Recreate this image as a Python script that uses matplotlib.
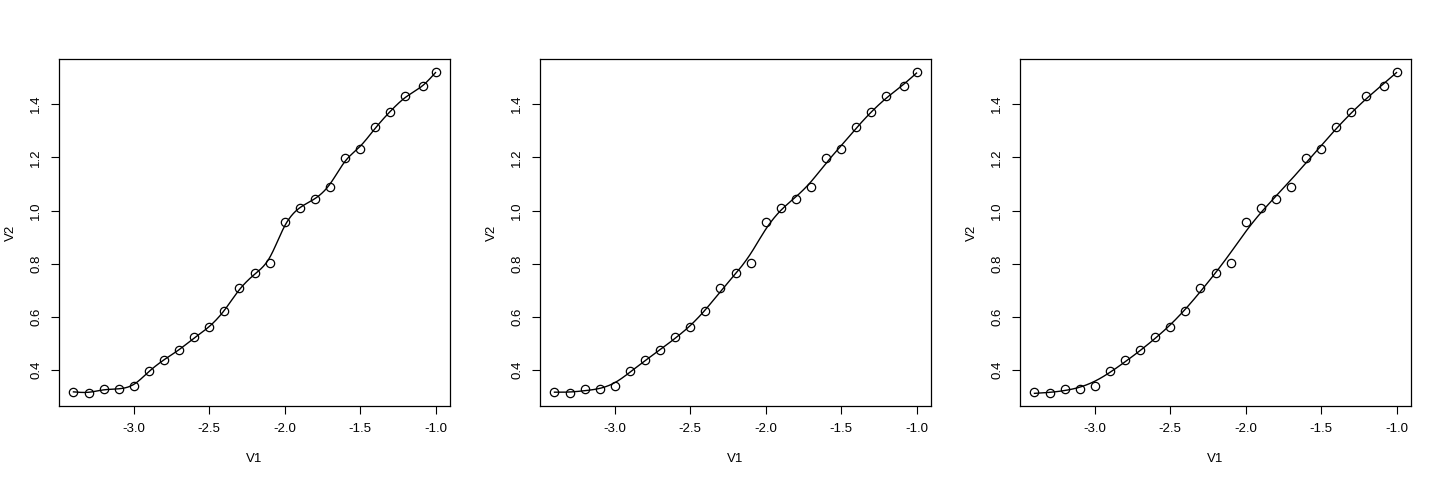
import matplotlib
matplotlib.use("Agg")
import matplotlib.pyplot as plt
import numpy as np

plt.rcParams["font.family"] = ["Liberation Sans", "DejaVu Sans"]

# data
v1 = np.array([-3.4, -3.3, -3.2, -3.1, -3.0, -2.9, -2.8, -2.7, -2.6, -2.5,
               -2.4, -2.3, -2.2, -2.1, -2.0, -1.9, -1.8, -1.7, -1.6, -1.5,
               -1.4, -1.3, -1.2, -1.08, -1.0])
v2 = np.array([0.320, 0.314, 0.330, 0.331, 0.341, 0.399, 0.440, 0.475, 0.524, 0.563,
               0.621, 0.708, 0.766, 0.803, 0.958, 1.010, 1.043, 1.090, 1.198, 1.232,
               1.312, 1.371, 1.429, 1.466, 1.521])
# smoothing penalty for each panel
lambdas = [6e-5, 4e-4, 2e-3]


def smooth_spline(x, y, lam, xs):
    """Reinsch cubic smoothing spline, evaluated at xs."""
    n = len(x)
    h = np.diff(x)
    Q = np.zeros((n, n - 2))
    R = np.zeros((n - 2, n - 2))
    for j in range(1, n - 1):
        Q[j - 1, j - 1] = 1 / h[j - 1]
        Q[j, j - 1] = -1 / h[j - 1] - 1 / h[j]
        Q[j + 1, j - 1] = 1 / h[j]
        R[j - 1, j - 1] = (h[j - 1] + h[j]) / 3
        if j < n - 2:
            R[j - 1, j] = h[j] / 6
            R[j, j - 1] = h[j] / 6
    K = Q @ np.linalg.solve(R, Q.T)
    g = np.linalg.solve(np.eye(n) + lam * K, y)
    gam = np.zeros(n)
    gam[1:-1] = np.linalg.solve(R, Q.T @ g)

    idx = np.clip(np.searchsorted(x, xs) - 1, 0, n - 2)
    x0, x1 = x[idx], x[idx + 1]
    hi = x1 - x0
    a, b = xs - x0, x1 - xs
    return ((a * g[idx + 1] + b * g[idx]) / hi
            - a * b / 6 * ((1 + a / hi) * gam[idx + 1] + (1 + b / hi) * gam[idx]))


fig = plt.figure(figsize=(14.4, 4.8), dpi=100)
xs = np.linspace(v1.min(), v1.max(), 600)
lefts = [59 / 1440, 540 / 1440, 1020 / 1440]

for left, lam in zip(lefts, lambdas):
    ax = fig.add_axes([left, 74 / 480, 391 / 1440, 347 / 480])
    ax.plot(v1, v2, "o", mfc="none", mec="black", ms=6, mew=0.9)
    ax.plot(xs, smooth_spline(v1, v2, lam, xs), "k-", lw=1.0)

    pad_x = (v1.max() - v1.min()) * 0.04
    pad_y = (v2.max() - v2.min()) * 0.04
    ax.set_xlim(v1.min() - pad_x, v1.max() + pad_x)
    ax.set_ylim(v2.min() - pad_y, v2.max() + pad_y)
    ax.set_xticks([-3.0, -2.5, -2.0, -1.5, -1.0])
    ax.set_yticks([0.4, 0.6, 0.8, 1.0, 1.2, 1.4])
    ax.set_xticklabels(["-3.0", "-2.5", "-2.0", "-1.5", "-1.0"])
    ax.set_yticklabels(["0.4", "0.6", "0.8", "1.0", "1.2", "1.4"],
                       rotation=90, va="center")
    ax.tick_params(direction="out", length=6, width=0.8, labelsize=9.5, pad=6)
    ax.set_xlabel("V1", fontsize=9.5, labelpad=13)
    ax.set_ylabel("V2", fontsize=9.5, labelpad=10)
    for s in ax.spines.values():
        s.set_linewidth(0.9)

fig.savefig("out.png", dpi=100)
plt.close(fig)
